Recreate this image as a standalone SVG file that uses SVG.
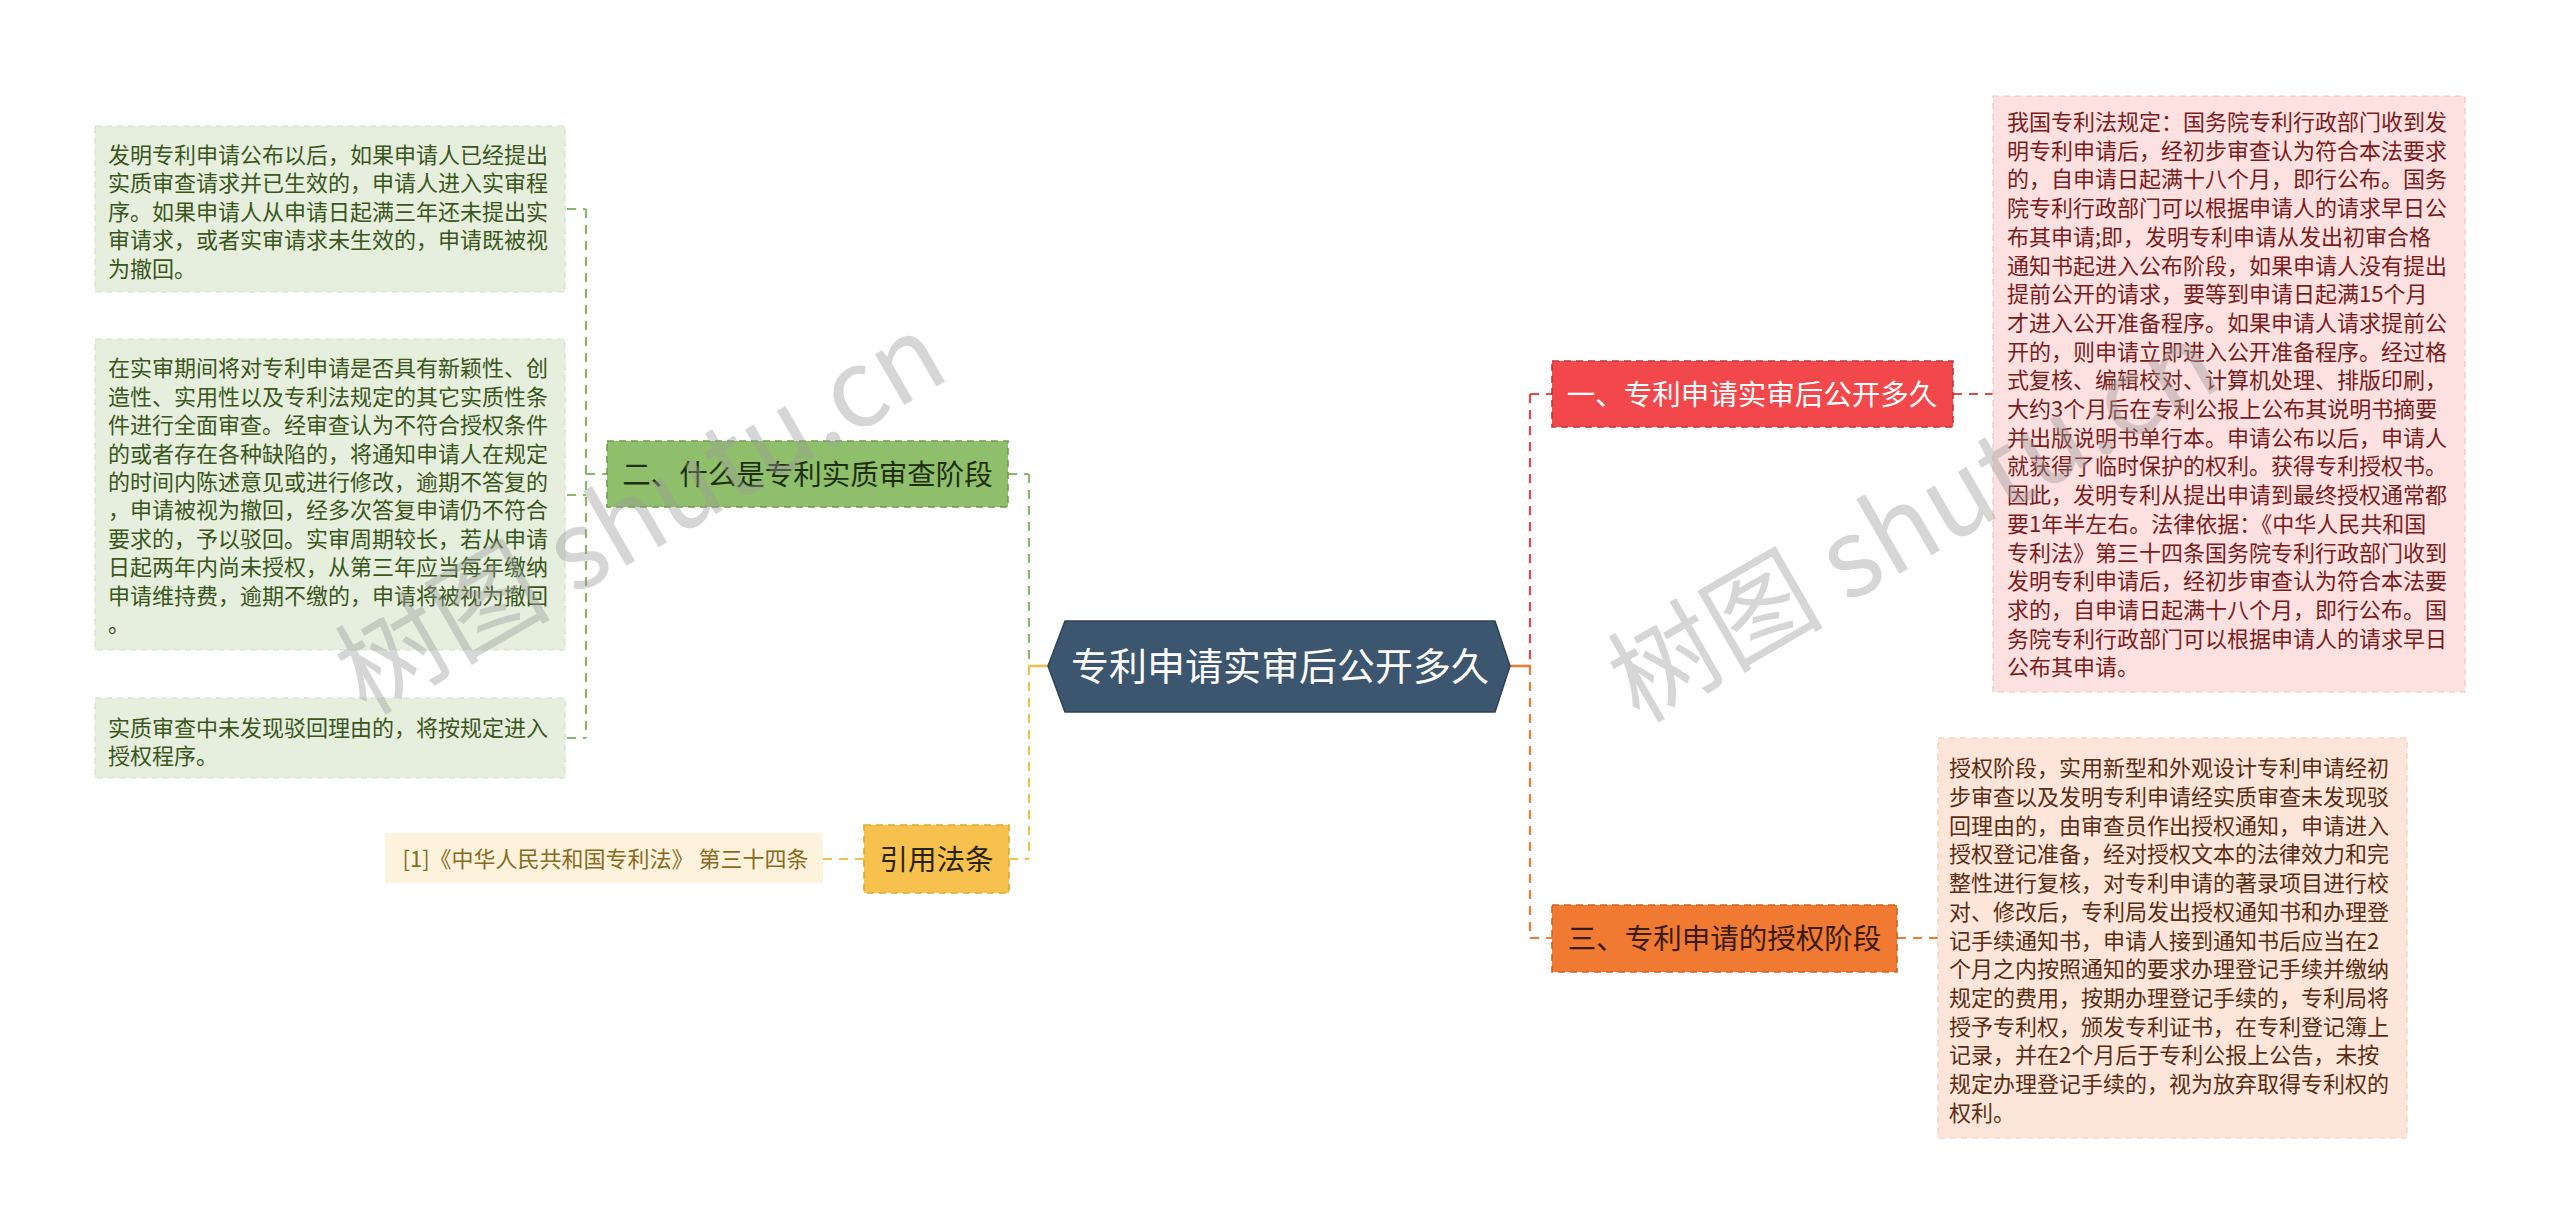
<svg xmlns="http://www.w3.org/2000/svg" width="2560" height="1232" viewBox="0 0 2560 1232">
<style>
text{font-family:"Noto Sans CJK SC","Microsoft YaHei",sans-serif;}
.c{fill:none;stroke-width:2.2;stroke-dasharray:9 7;}
.cs{fill:none;stroke-width:2.6;}
.red{stroke:#e2474a;}
.org{stroke:#ee7a34;}
.grn{stroke:#8cb66c;}
.yel{stroke:#f2c14e;}
.nb{stroke-width:1.6;stroke-dasharray:7 5;}
.tb{stroke-width:1.2;stroke-dasharray:6 5;}
.t22{font-size:22px;}
.t28{font-size:28.5px;}
.wm{font-size:108px;fill:#9a9a9a;opacity:0.4;}
</style>
<rect width="2560" height="1232" fill="#ffffff"/>

<g id="connectors">
  <line class="cs org" x1="1510" y1="666" x2="1531" y2="666"/>
  <line class="c red" x1="1530" y1="394" x2="1530" y2="666"/>
  <line class="c org" x1="1530" y1="666" x2="1530" y2="938"/>
  <line class="c red" x1="1530" y1="394" x2="1552" y2="394"/>
  <line class="c red" x1="1953" y1="394" x2="1993" y2="394"/>
  <line class="c org" x1="1530" y1="938" x2="1552" y2="938"/>
  <line class="c org" x1="1897" y1="938" x2="1938" y2="938"/>
  <line class="cs yel" x1="1028" y1="666" x2="1049" y2="666"/>
  <line class="c grn" x1="1029" y1="474" x2="1029" y2="666"/>
  <line class="c grn" x1="1008" y1="474" x2="1029" y2="474"/>
  <line class="c yel" x1="1029" y1="666" x2="1029" y2="859"/>
  <line class="c yel" x1="1009" y1="859" x2="1029" y2="859"/>
  <line class="c yel" x1="823" y1="859" x2="864" y2="859"/>
  <line class="c grn" x1="586" y1="474" x2="607" y2="474"/>
  <line class="c grn" x1="586" y1="209" x2="586" y2="738"/>
  <line class="c grn" x1="567" y1="209" x2="586" y2="209"/>
  <line class="c grn" x1="567" y1="495" x2="586" y2="495"/>
  <line class="c grn" x1="567" y1="738" x2="586" y2="738"/>
</g>

<g id="root">
  <polygon points="1048,666 1065,621 1495,621 1510,666 1495,712 1065,712" fill="#3c566f" stroke="#2d4257" stroke-width="1.5"/>
  <text x="1280" y="680" text-anchor="middle" font-size="38" fill="#ffffff">专利申请实审后公开多久</text>
</g>

<g id="node-red">
  <rect class="nb" x="1552" y="361" width="401" height="66" fill="#f2474b" stroke="#c93336"/>
  <text class="t28" x="1752" y="405" text-anchor="middle" fill="#ffffff">一、专利申请实审后公开多久</text>
</g>

<g id="text-red">
  <rect class="tb" x="1993" y="96" width="472" height="596" fill="#fde0e0" stroke="#f3c4c4"/>
  <text class="t22" fill="#7b1c1c">
    <tspan x="2007" y="130">我国专利法规定：国务院专利行政部门收到发</tspan>
    <tspan x="2007" y="158.7">明专利申请后，经初步审查认为符合本法要求</tspan>
    <tspan x="2007" y="187.4">的，自申请日起满十八个月，即行公布。国务</tspan>
    <tspan x="2007" y="216.1">院专利行政部门可以根据申请人的请求早日公</tspan>
    <tspan x="2007" y="244.8">布其申请;即，发明专利申请从发出初审合格</tspan>
    <tspan x="2007" y="273.5">通知书起进入公布阶段，如果申请人没有提出</tspan>
    <tspan x="2007" y="302.2">提前公开的请求，要等到申请日起满15个月</tspan>
    <tspan x="2007" y="330.9">才进入公开准备程序。如果申请人请求提前公</tspan>
    <tspan x="2007" y="359.6">开的，则申请立即进入公开准备程序。经过格</tspan>
    <tspan x="2007" y="388.3">式复核、编辑校对、计算机处理、排版印刷，</tspan>
    <tspan x="2007" y="417">大约3个月后在专利公报上公布其说明书摘要</tspan>
    <tspan x="2007" y="445.7">并出版说明书单行本。申请公布以后，申请人</tspan>
    <tspan x="2007" y="474.4">就获得了临时保护的权利。获得专利授权书。</tspan>
    <tspan x="2007" y="503.1">因此，发明专利从提出申请到最终授权通常都</tspan>
    <tspan x="2007" y="531.8">要1年半左右。法律依据：《中华人民共和国</tspan>
    <tspan x="2007" y="560.5">专利法》第三十四条国务院专利行政部门收到</tspan>
    <tspan x="2007" y="589.2">发明专利申请后，经初步审查认为符合本法要</tspan>
    <tspan x="2007" y="617.9">求的，自申请日起满十八个月，即行公布。国</tspan>
    <tspan x="2007" y="646.6">务院专利行政部门可以根据申请人的请求早日</tspan>
    <tspan x="2007" y="675.3">公布其申请。</tspan>
  </text>
</g>

<g id="node-orange">
  <rect class="nb" x="1552" y="905" width="345" height="67" fill="#f07a32" stroke="#d2621f"/>
  <text class="t28" x="1724.5" y="949" text-anchor="middle" fill="#3a1c0a">三、专利申请的授权阶段</text>
</g>

<g id="text-orange">
  <rect class="tb" x="1938" y="738" width="469" height="400" fill="#fde5d9" stroke="#f4cdb8"/>
  <text class="t22" fill="#5a2d14">
    <tspan x="1949" y="776.3">授权阶段，实用新型和外观设计专利申请经初</tspan>
    <tspan x="1949" y="805">步审查以及发明专利申请经实质审查未发现驳</tspan>
    <tspan x="1949" y="833.7">回理由的，由审查员作出授权通知，申请进入</tspan>
    <tspan x="1949" y="862.4">授权登记准备，经对授权文本的法律效力和完</tspan>
    <tspan x="1949" y="891.1">整性进行复核，对专利申请的著录项目进行校</tspan>
    <tspan x="1949" y="919.8">对、修改后，专利局发出授权通知书和办理登</tspan>
    <tspan x="1949" y="948.5">记手续通知书，申请人接到通知书后应当在2</tspan>
    <tspan x="1949" y="977.2">个月之内按照通知的要求办理登记手续并缴纳</tspan>
    <tspan x="1949" y="1005.9">规定的费用，按期办理登记手续的，专利局将</tspan>
    <tspan x="1949" y="1034.6">授予专利权，颁发专利证书，在专利登记簿上</tspan>
    <tspan x="1949" y="1063.3">记录，并在2个月后于专利公报上公告，未按</tspan>
    <tspan x="1949" y="1092">规定办理登记手续的，视为放弃取得专利权的</tspan>
    <tspan x="1949" y="1120.7">权利。</tspan>
  </text>
</g>

<g id="node-green">
  <rect class="nb" x="607" y="441" width="401" height="66" fill="#8fbf6b" stroke="#6f9f4f"/>
  <text class="t28" x="807.5" y="485" text-anchor="middle" fill="#1f2f12">二、什么是专利实质审查阶段</text>
</g>

<g id="text-green-1">
  <rect class="tb" x="95" y="126" width="470" height="166" fill="#e6efdd" stroke="#d3e2c6"/>
  <text class="t22" fill="#3a561c">
    <tspan x="108" y="163">发明专利申请公布以后，如果申请人已经提出</tspan>
    <tspan x="108" y="191.4">实质审查请求并已生效的，申请人进入实审程</tspan>
    <tspan x="108" y="219.8">序。如果申请人从申请日起满三年还未提出实</tspan>
    <tspan x="108" y="248.2">审请求，或者实审请求未生效的，申请既被视</tspan>
    <tspan x="108" y="276.6">为撤回。</tspan>
  </text>
</g>

<g id="text-green-2">
  <rect class="tb" x="95" y="339" width="470" height="311" fill="#e6efdd" stroke="#d3e2c6"/>
  <text class="t22" fill="#3a561c">
    <tspan x="108" y="376.3">在实审期间将对专利申请是否具有新颖性、创</tspan>
    <tspan x="108" y="404.7">造性、实用性以及专利法规定的其它实质性条</tspan>
    <tspan x="108" y="433.1">件进行全面审查。经审查认为不符合授权条件</tspan>
    <tspan x="108" y="461.5">的或者存在各种缺陷的，将通知申请人在规定</tspan>
    <tspan x="108" y="489.9">的时间内陈述意见或进行修改，逾期不答复的</tspan>
    <tspan x="108" y="518.3">，申请被视为撤回，经多次答复申请仍不符合</tspan>
    <tspan x="108" y="546.7">要求的，予以驳回。实审周期较长，若从申请</tspan>
    <tspan x="108" y="575.1">日起两年内尚未授权，从第三年应当每年缴纳</tspan>
    <tspan x="108" y="603.5">申请维持费，逾期不缴的，申请将被视为撤回</tspan>
    <tspan x="108" y="631.9">。</tspan>
  </text>
</g>

<g id="text-green-3">
  <rect class="tb" x="95" y="698" width="470" height="80" fill="#e6efdd" stroke="#d3e2c6"/>
  <text class="t22" fill="#3a561c">
    <tspan x="108" y="736">实质审查中未发现驳回理由的，将按规定进入</tspan>
    <tspan x="108" y="764.4">授权程序。</tspan>
  </text>
</g>

<g id="node-yellow">
  <rect class="nb" x="864" y="825" width="145" height="68" fill="#f6c14c" stroke="#e0a92f"/>
  <text class="t28" x="936.5" y="870" text-anchor="middle" fill="#2b2204">引用法条</text>
</g>

<g id="text-citation">
  <rect x="385" y="833" width="438" height="50" fill="#fdf2dc"/>
  <text class="t22" x="605.5" y="867" text-anchor="middle" fill="#8a6a1e">[1]《中华人民共和国专利法》 第三十四条</text>
</g>

<g id="watermark">
  <text class="wm" transform="translate(366,716) rotate(-30)">树图 shutu.cn</text>
  <text class="wm" transform="translate(1639,724) rotate(-30)">树图 shutu.cn</text>
</g>
</svg>
